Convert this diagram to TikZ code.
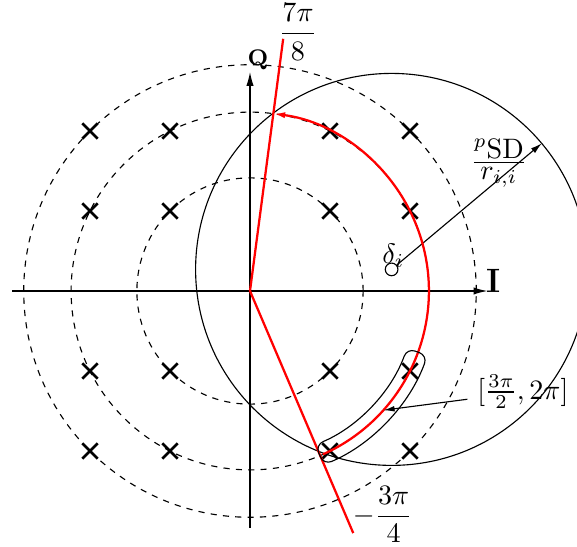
\documentclass[tikz,border=0pt]{standalone}
\usepackage{amsmath}
\usetikzlibrary{arrows.meta,calc,shapes.misc}

\begin{document}
\begin{tikzpicture}[x=1cm,y=1cm,
  ring/.style={dash pattern=on 2.2pt off 2.2pt,line width=0.4pt},
  xmark/.style={cross out,draw,line width=0.9pt,minimum size=4.6pt,inner sep=0pt},
  redline/.style={red,line width=0.8pt},
  axis/.style={line width=0.5pt,-{Latex[length=5pt,width=2.6pt]}}]
\useasboundingbox (-3.125,-3.2) rectangle (4.0875,3.6375);
\clip (-3.125,-3.2) rectangle (4.0875,3.6375);
\coordinate (o) at (0,0);
% dashed rings of the constellation
\foreach \r in {1.4142,2.2361,2.8284} \draw[ring] (o) circle (\r);
% symbols
\foreach \i in {-2,-1,1,2} \foreach \q in {-2,-1,1,2}
  \node[xmark] (s\i\q) at (\i,\q) {};
% axes
\draw[axis] (-2.97,0) -- (2.97,0);
\draw[axis] (0,-2.96) -- (0,2.74);
\node[font=\large\bfseries] (lI) at (3.04,0.125) {I};
\node[font=\footnotesize\bfseries] (lQ) at (0.1,2.89) {Q};
% search circle
\node[circle,draw,line width=0.4pt,inner sep=0pt,minimum size=4.5pt] (d) at (1.77,0.27) {};
\draw[line width=0.4pt] (d.center) circle (2.45);
\coordinate (rim) at ($(d.center)+(40:2.45)$);
\draw[line width=0.4pt,-{Latex[length=4pt,width=2.2pt]}] (d) -- (rim);
\node (dl) at (1.79,0.44) {$\delta_i$};
\node (sd) at (3.11,1.6) {$\frac{\displaystyle{}^{p}\mathrm{SD}}{\displaystyle r_{i,i}}$};
% phase range
\draw[redline] (o) -- (82.5:3.18) coordinate (top);
\draw[redline] (o) -- (-66.9:3.29) coordinate (bot);
\node (l78) at (0.6,3.24) {$\dfrac{7\pi}{8}$};
\node[inner sep=1pt] (l34) at (1.66,-2.79) {$-\dfrac{3\pi}{4}$};
\draw[redline,-{Latex[length=4.2pt,width=2.2pt]}] (-66:2.2361) arc[start angle=-66,end angle=82.5,radius=2.2361];
% selected interval
\draw[line width=0.4pt,rounded corners=3pt] (-67:2.09) arc[start angle=-67,end angle=-20,radius=2.09]
  -- (-20:2.36) arc[start angle=-20,end angle=-67,radius=2.36] -- cycle;
\coordinate (hit) at (-41.8:2.2361);
\node (rng) at (3.41,-1.2625) {$[\frac{3\pi}{2},2\pi]$};
\draw[line width=0.4pt,-{Latex[length=4pt,width=2pt]}] (rng) -- (hit);
\end{tikzpicture}
\end{document}
